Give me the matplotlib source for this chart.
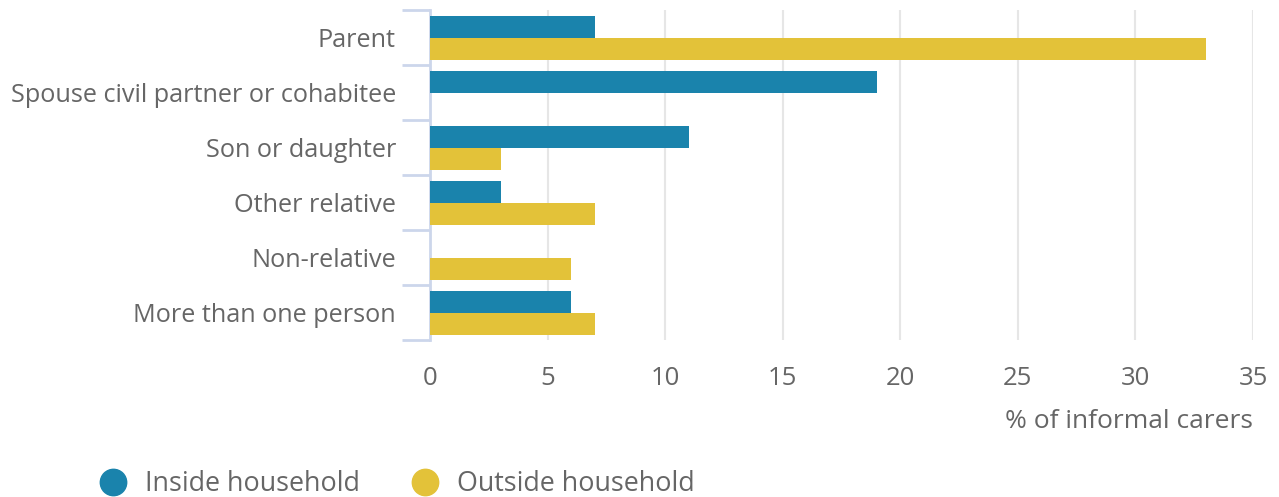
import numpy as np
import matplotlib.pyplot as plt
from matplotlib.lines import Line2D

plt.rcParams['font.family'] = ['Open Sans', 'DejaVu Sans']

categories = ["Parent", "Spouse civil partner or cohabitee", "Son or daughter",
              "Other relative", "Non-relative", "More than one person"]
inside = [7, 19, 11, 3, 0, 6]
outside = [33, 0, 3, 7, 6, 7]
series_names = ["Inside household", "Outside household"]
xticks = [0, 5, 10, 15, 20, 25, 30, 35]

blue = "#1a83ac"
yellow = "#e3c239"
text_col = "#666666"
axis_col = "#ccd6eb"

fig = plt.figure(figsize=(12.79, 4.97), dpi=100)
ax = fig.add_axes([430 / 1279, 1 - 340 / 497, 823 / 1279, 330 / 497])

y = np.arange(len(categories))
h = 0.4
ax.barh(y - 0.19, inside, height=h, color=blue, zorder=3)
ax.barh(y + 0.21, outside, height=h, color=yellow, zorder=3)

ax.set_xlim(0, 35)
ax.set_ylim(len(categories) - 0.5, -0.5)
ax.set_xticks(xticks)
ax.grid(axis="x", color="#e6e6e6", linewidth=1.5, zorder=0)

# category band boundaries as major ticks, labels on minor ticks at centres
ax.set_yticks(np.arange(len(categories) + 1) - 0.5)
ax.set_yticklabels([])
ax.set_yticks(y, minor=True)
ax.set_yticklabels(categories, minor=True)
ax.tick_params(axis="y", which="major", length=20, width=2, color=axis_col)
ax.tick_params(axis="y", which="minor", length=0, pad=24.5,
               labelsize=18.2, labelcolor=text_col)
ax.tick_params(axis="x", length=0, pad=19, labelsize=18.5, labelcolor=text_col)

for s in ["top", "right", "bottom"]:
    ax.spines[s].set_visible(False)
ax.spines["left"].set_color(axis_col)
ax.spines["left"].set_linewidth(2)

fig.text(1253 / 1279, 1 - 422 / 497, "% of informal carers", ha="right",
         va="center", fontsize=19, color=text_col)

handles = [Line2D([], [], marker="o", linestyle="none", markersize=19,
                  markerfacecolor=c, markeredgecolor=c) for c in (blue, yellow)]
leg = fig.legend(handles, series_names, loc="center left",
                 bbox_to_anchor=(102 / 1279, 1 - 484 / 497), ncol=2,
                 frameon=False, fontsize=19.4, handletextpad=0.78,
                 columnspacing=2.05, handlelength=0.8, borderaxespad=0,
                 borderpad=0)
for t in leg.get_texts():
    t.set_color(text_col)

fig.savefig("out.png", dpi=100)
